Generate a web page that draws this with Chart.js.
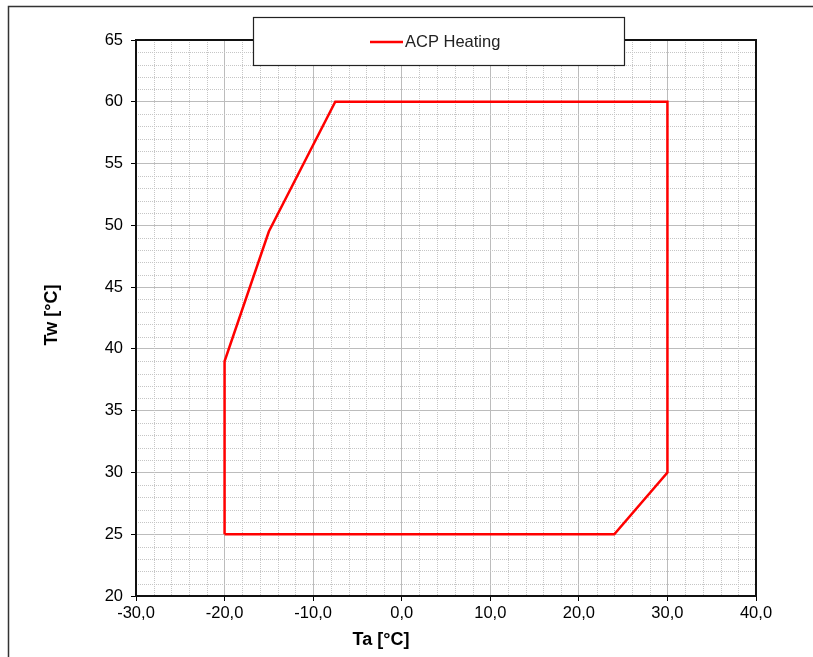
<!DOCTYPE html>
<html lang="en">

<head>
    <meta charset="UTF-8">
    <script src="https://cdn.jsdelivr.net/npm/chart.js"></script>
    <title>ACP Heating</title>
    <style>
        body { margin: 0; background: #fff; }
        canvas { display: block; }
    </style>
</head>

<body>
    <canvas id="myChart" width="813" height="657"></canvas>
</body>

<script>
    // operating envelope
    const seriesName = 'ACP Heating';
    const taValues = [-20, -20, -15, -7.5, 30, 30, 24, -20];
    const twValues = [25, 39, 49.5, 60, 60, 30, 25, 25];

    const xRange = [-30, 40];
    const yRange = [20, 65];
    const xTitle = 'Ta [°C]';
    const yTitle = 'Tw [°C]';

    let points = taValues.map((t, i) => ({ x: t, y: twValues[i] }));

    // dotted minor grid (2 units on x, 1 unit on y)
    const minorGrid = {
        id: 'minorGrid',
        beforeDatasetsDraw(chart) {
            const { ctx, chartArea: a, scales } = chart;
            ctx.save();
            ctx.strokeStyle = '#c6c6c6';
            ctx.lineWidth = 1;
            ctx.setLineDash([1, 1]);
            for (let v = xRange[0]; v <= xRange[1]; v += 2) {
                if (v % 10 === 0) continue;
                let px = Math.round(scales.x.getPixelForValue(v)) + 0.5;
                ctx.beginPath();
                ctx.moveTo(px, a.top);
                ctx.lineTo(px, a.bottom);
                ctx.stroke();
            }
            for (let v = yRange[0]; v <= yRange[1]; v += 1) {
                if (v % 5 === 0) continue;
                let py = Math.round(scales.y.getPixelForValue(v)) + 0.5;
                ctx.beginPath();
                ctx.moveTo(a.left, py);
                ctx.lineTo(a.right, py);
                ctx.stroke();
            }
            ctx.restore();
        }
    };

    // frame, outer border, titles and the boxed legend
    const decorations = {
        id: 'decorations',
        afterDraw(chart) {
            const { ctx, chartArea: a } = chart;
            ctx.save();
            ctx.setLineDash([]);

            ctx.strokeStyle = '#111';
            ctx.lineWidth = 2;
            ctx.strokeRect(a.left, a.top, a.right - a.left, a.bottom - a.top);

            ctx.strokeStyle = '#333';
            ctx.lineWidth = 1.5;
            ctx.beginPath();
            ctx.moveTo(8.5, 657);
            ctx.lineTo(8.5, 6.5);
            ctx.lineTo(813, 6.5);
            ctx.stroke();

            ctx.fillStyle = '#000';
            ctx.font = 'bold 18px "Liberation Sans", Arial, sans-serif';
            ctx.textAlign = 'center';
            ctx.textBaseline = 'middle';
            ctx.fillText(xTitle, 381, 640);
            ctx.translate(52, 315);
            ctx.rotate(-Math.PI / 2);
            ctx.fillText(yTitle, 0, 0);
            ctx.setTransform(1, 0, 0, 1, 0, 0);

            ctx.fillStyle = '#fff';
            ctx.fillRect(253, 17, 372, 49);
            ctx.strokeStyle = '#222';
            ctx.lineWidth = 1.2;
            ctx.strokeRect(253.5, 17.5, 371, 48);

            ctx.strokeStyle = '#ff0000';
            ctx.lineWidth = 2.5;
            ctx.beginPath();
            ctx.moveTo(370, 42);
            ctx.lineTo(403, 42);
            ctx.stroke();

            ctx.fillStyle = '#222';
            ctx.font = '16.5px "Liberation Sans", Arial, sans-serif';
            ctx.textAlign = 'left';
            ctx.fillText(chart.data.datasets[0].label, 405, 42.5);
            ctx.restore();
        }
    };

    var ctx = document.getElementById('myChart').getContext('2d');
    var myChart = new Chart(ctx, {
        type: 'scatter',
        data: {
            datasets: [{
                label: seriesName,
                data: points,
                showLine: true,
                borderColor: '#ff0000',
                backgroundColor: '#ff0000',
                borderWidth: 2.5,
                pointRadius: 0,
                tension: 0
            }]
        },
        options: {
            responsive: false,
            animation: false,
            layout: { padding: { left: 0, right: 57, top: 40, bottom: 0 } },
            plugins: {
                legend: { display: false },
                tooltip: { enabled: false }
            },
            scales: {
                x: {
                    type: 'linear',
                    min: xRange[0],
                    max: xRange[1],
                    afterFit: (s) => { s.height = 61; },
                    ticks: {
                        stepSize: 10,
                        padding: 3,
                        color: '#000',
                        font: { family: '"Liberation Sans", Arial, sans-serif', size: 16.5 },
                        maxRotation: 0,
                        callback: (v) => v.toFixed(1).replace('.', ',')
                    },
                    grid: {
                        color: '#bcbcbc',
                        lineWidth: 1,
                        tickColor: '#000',
                        tickLength: 5
                    },
                    border: { display: false }
                },
                y: {
                    type: 'linear',
                    min: yRange[0],
                    max: yRange[1],
                    afterFit: (s) => { s.width = 136; },
                    ticks: {
                        stepSize: 5,
                        padding: 8,
                        color: '#000',
                        font: { family: '"Liberation Sans", Arial, sans-serif', size: 16.5 }
                    },
                    grid: {
                        color: '#bcbcbc',
                        lineWidth: 1,
                        tickColor: '#000',
                        tickLength: 5
                    },
                    border: { display: false }
                }
            }
        },
        plugins: [minorGrid, decorations]
    });
</script>

</html>
